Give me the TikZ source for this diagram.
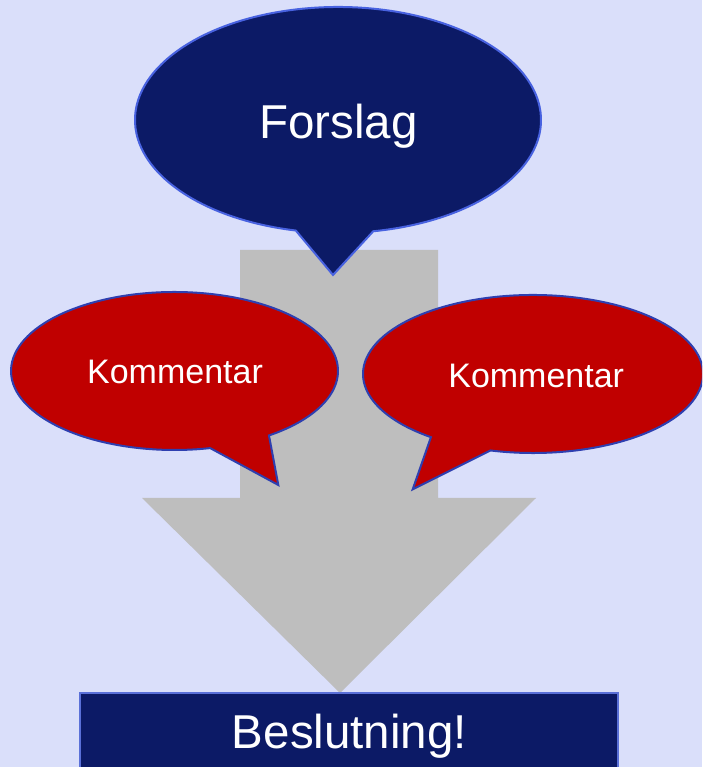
\documentclass[tikz,border=0pt]{standalone}
\usepackage{fontspec}
\setmainfont{Liberation Sans}
\usetikzlibrary{calc}
\definecolor{bgc}{RGB}{218,223,250}
\definecolor{navy}{RGB}{12,26,102}
\definecolor{navyedge}{RGB}{72,98,224}
\definecolor{redfill}{RGB}{192,0,0}
\definecolor{rededge}{RGB}{46,63,176}
\definecolor{boxedge}{RGB}{90,112,216}
\definecolor{arrowgray}{RGB}{190,190,190}
\tikzset{
  bigtext/.style={text=white,inner sep=0pt,anchor=base,font=\fontsize{47.5}{52}\selectfont},
  smalltext/.style={text=white,inner sep=0pt,anchor=base,font=\fontsize{34}{38}\selectfont},
  bluecallout/.style={fill=navy,draw=navyedge,line width=2pt,line join=miter},
  redcallout/.style={fill=redfill,draw=rededge,line width=2pt,line join=miter},
}
\begin{document}
\begin{tikzpicture}[x=1pt,y=1pt]
\useasboundingbox (0,0) rectangle (702,767);
\clip (0,0) rectangle (702,767);
\fill[bgc] (0,0) rectangle (702,767);
% gray arrow
\coordinate (sTL) at (240,517);
\coordinate (sTR) at (438,517);
\coordinate (sBR) at (438,269);
\coordinate (hR) at (536,269);
\coordinate (tip) at (340,74);
\coordinate (hL) at (142,269);
\coordinate (sBL) at (240,269);
\fill[arrowgray] (sTL) -- (sTR) -- (sBR) -- (hR) -- (tip) -- (hL) -- (sBL) -- cycle;
% Forslag callout
\coordinate (fc) at (338,647);
\coordinate (ftip) at (333,492);
\draw[bluecallout] ($(fc)+(280:203 and 113)$) arc[start angle=280,end angle=618,x radius=203,y radius=113] -- (ftip) -- cycle;
\node[bigtext] (forslag) at (338.3,628.7) {Forslag};
% left Kommentar
\coordinate (lc) at (174.5,396);
\coordinate (ltip) at (278.3,282);
\draw[redcallout] ($(lc)+(305.3:163.5 and 79)$) arc[start angle=305.3,end angle=642.6,x radius=163.5,y radius=79] -- (ltip) -- cycle;
\node[smalltext] (kom1) at (175,383.7) {Kommentar};
% right Kommentar
\coordinate (rc) at (533,393);
\coordinate (rtip) at (412.7,277.7);
\draw[redcallout] ($(rc)+(255.5:170 and 79)$) arc[start angle=255.5,end angle=593.1,x radius=170,y radius=79] -- (rtip) -- cycle;
\node[smalltext] (kom2) at (536.2,379.7) {Kommentar};
% decision box
\draw[fill=navy,draw=boxedge,line width=2pt] (80,74) rectangle (618,-10);
\node[bigtext] (beslut) at (349.5,18) {Beslutning!};
\end{tikzpicture}
\end{document}
